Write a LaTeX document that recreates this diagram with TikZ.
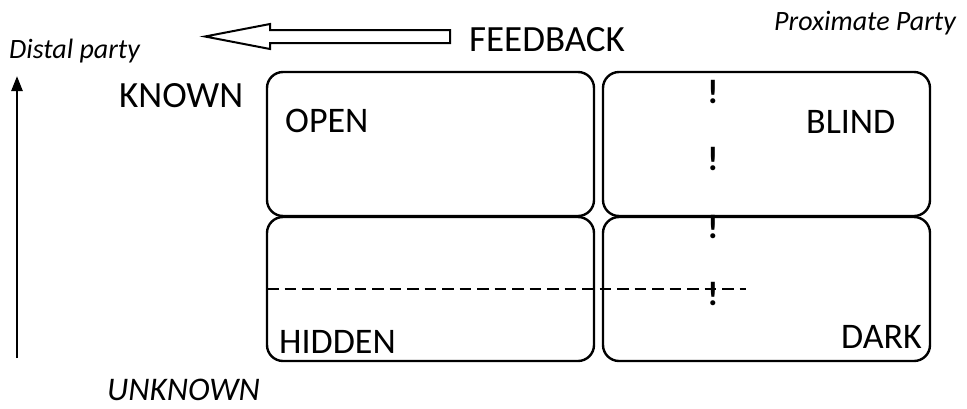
\documentclass[tikz,border=0pt]{standalone}
\usepackage{fontspec}
\setmainfont{Carlito}
\usetikzlibrary{arrows.meta}
\begin{document}
\begin{tikzpicture}[x=1pt,y=-1pt,
  quad/.style={draw,line width=2.4pt,rounded corners=16pt,minimum width=327pt,
    minimum height=144pt,anchor=north west,inner sep=0pt,outer sep=0pt},
  bigtxt/.style={font=\fontsize{36}{43}\selectfont,inner sep=0pt,anchor=base west},
  headtxt/.style={font=\fontsize{37}{44}\selectfont,inner sep=0pt,anchor=base west},
  partytxt/.style={font=\fontsize{28}{33}\selectfont\itshape,inner sep=0pt},
  axistxt/.style={font=\fontsize{33}{40}\selectfont\itshape,inner sep=0pt,anchor=base west},
  bang/.style={font=\fontsize{34}{40}\selectfont\bfseries,inner sep=0pt,anchor=base},
  divider/.style={line width=2.2pt,dash pattern=on 11.5pt off 6pt}]
\useasboundingbox (0,0) rectangle (967,408);

% the four panes of the window
\node[quad] (open)   at (267,72)  {};
\node[quad] (blind)  at (603,72)  {};
\node[quad] (hidden) at (267,217) {};
\node[quad] (dark)   at (603,217) {};

% pane labels
\node[bigtxt] (lopen)   at (285,132) {OPEN};
\node[bigtxt] (lblind)  at (806,133) {BLIND};
\node[bigtxt] (lhidden) at (279,353) {HIDDEN};
\node[bigtxt] (ldark)   at (841,348) {DARK};

% axis and party labels
\node[headtxt]  (known)    at (119,107) {KNOWN};
\node[axistxt]  (unknown)  at (107,400) {UNKNOWN};
\node[partytxt,anchor=base west] (distal)    at (9,58)   {Distal party};
\node[partytxt,anchor=base east] (proximate) at (956,30) {Proximate Party};
\node[headtxt]  (feedback) at (469,51)  {FEEDBACK};

% exclamation marks down the right column
\node[bang] (b1) at (713,103) {!};
\node[bang] (b2) at (713,170) {!};
\node[bang] (b3) at (713,238) {!};
\node[bang] (b4) at (713,305) {!};

% dashed divider across the lower panes
\coordinate (dstart) at (267,289);
\coordinate (dend)   at (746,289);
\draw[divider] (dstart) -- (dend);

% vertical axis arrow
\coordinate (abot) at (17,358);
\coordinate (atop) at (17,76);
\draw[line width=2.5pt,-{Triangle[length=15pt,width=11pt]}] (abot) -- (atop);

% hollow feedback arrow
\draw[line width=2pt,line join=miter]
  (450,30) -- (270,30) -- (270,24) -- (205,36.5) -- (270,49) -- (270,43) -- (450,43) -- cycle;
\end{tikzpicture}
\end{document}
